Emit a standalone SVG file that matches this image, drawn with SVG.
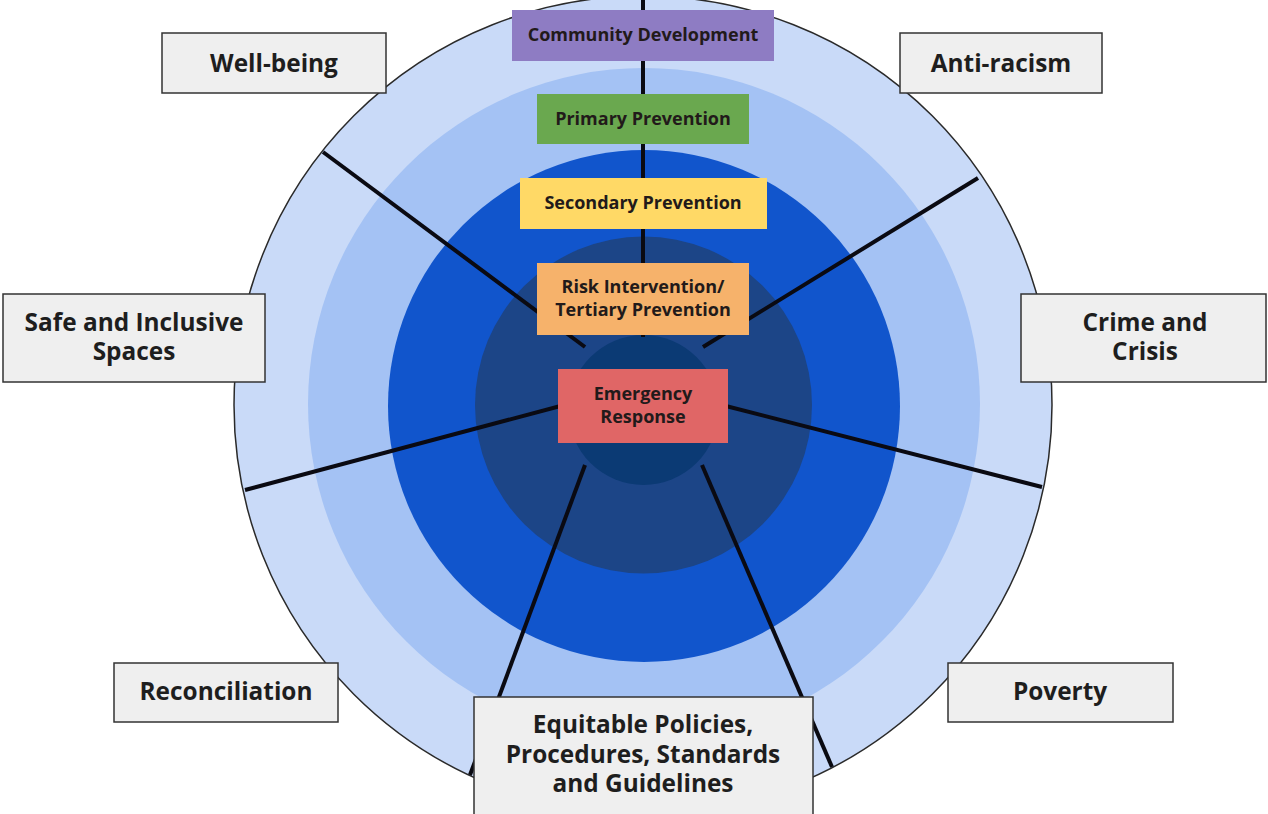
<svg xmlns="http://www.w3.org/2000/svg" width="1268" height="814" viewBox="0 0 1268 814">
<style>
.lbl{fill:#efefef;stroke:#333;stroke-width:1.5}
.t{font-family:"Open Sans","Noto Sans","Liberation Sans",sans-serif;font-weight:bold;text-anchor:middle;fill:#1e1e1e}
.big{font-size:24.4px}
.sm{font-size:18px;fill:#221a1a}
.spoke{stroke:#0a0a12;stroke-width:4;stroke-linecap:butt}
</style>
<rect width="1268" height="814" fill="#ffffff"/>
<g id="rings">
<circle cx="643" cy="405" r="409" fill="#c9daf8" stroke="#2a2a2a" stroke-width="1.5"/>
<circle cx="644" cy="404" r="336" fill="#a4c2f4"/>
<circle cx="644" cy="406" r="256" fill="#1155cc"/>
<circle cx="643.5" cy="405" r="168.5" fill="#1c4587"/>
<circle cx="643.5" cy="410" r="75" fill="#0b3a74"/>
</g>
<g id="connectors">
<line class="spoke" x1="643" y1="0" x2="643" y2="337"/>
<line class="spoke" x1="323" y1="152" x2="585" y2="347"/>
<line class="spoke" x1="978" y1="178" x2="703" y2="347"/>
<line class="spoke" x1="245" y1="490" x2="568" y2="404"/>
<line class="spoke" x1="1042" y1="487" x2="718" y2="404"/>
<line class="spoke" x1="585" y1="465" x2="470" y2="775"/>
<line class="spoke" x1="702" y1="465" x2="832" y2="767"/>
</g>
<g id="community-development">
<rect x="512" y="10" width="262" height="51" fill="#8e7cc3"/>
<text class="t sm" x="643" y="41">Community Development</text>
</g>
<g id="primary-prevention">
<rect x="537" y="94" width="212" height="50" fill="#6aa84f"/>
<text class="t sm" x="643" y="125">Primary Prevention</text>
</g>
<g id="secondary-prevention">
<rect x="520" y="178" width="247" height="51" fill="#ffd966"/>
<text class="t sm" x="643" y="209">Secondary Prevention</text>
</g>
<g id="risk-intervention">
<rect x="537" y="263" width="212" height="72" fill="#f6b26b"/>
<text class="t sm" x="643" y="293">Risk Intervention/</text>
<text class="t sm" x="643" y="316">Tertiary Prevention</text>
</g>
<g id="emergency-response">
<rect x="558" y="369" width="170" height="74" fill="#e06666"/>
<text class="t sm" x="643" y="400">Emergency</text>
<text class="t sm" x="643" y="423">Response</text>
</g>
<g id="well-being">
<rect class="lbl" x="162" y="33" width="224" height="60"/>
<text class="t big" x="274" y="72">Well-being</text>
</g>
<g id="anti-racism">
<rect class="lbl" x="900" y="33" width="202" height="60"/>
<text class="t big" x="1001" y="72">Anti-racism</text>
</g>
<g id="safe-inclusive">
<rect class="lbl" x="3" y="294" width="262" height="88"/>
<text class="t big" x="134" y="331">Safe and Inclusive</text>
<text class="t big" x="134" y="360">Spaces</text>
</g>
<g id="crime-crisis">
<rect class="lbl" x="1021" y="294" width="245" height="88"/>
<text class="t big" x="1145" y="331">Crime and</text>
<text class="t big" x="1145" y="360">Crisis</text>
</g>
<g id="reconciliation">
<rect class="lbl" x="114" y="663" width="224" height="59"/>
<text class="t big" x="226" y="700">Reconciliation</text>
</g>
<g id="poverty">
<rect class="lbl" x="948" y="663" width="225" height="59"/>
<text class="t big" x="1060" y="700">Poverty</text>
</g>
<g id="equitable">
<rect class="lbl" x="474" y="697" width="339" height="125"/>
<text class="t big" x="643" y="733">Equitable Policies,</text>
<text class="t big" x="643" y="763">Procedures, Standards</text>
<text class="t big" x="643" y="792">and Guidelines</text>
</g>
</svg>
